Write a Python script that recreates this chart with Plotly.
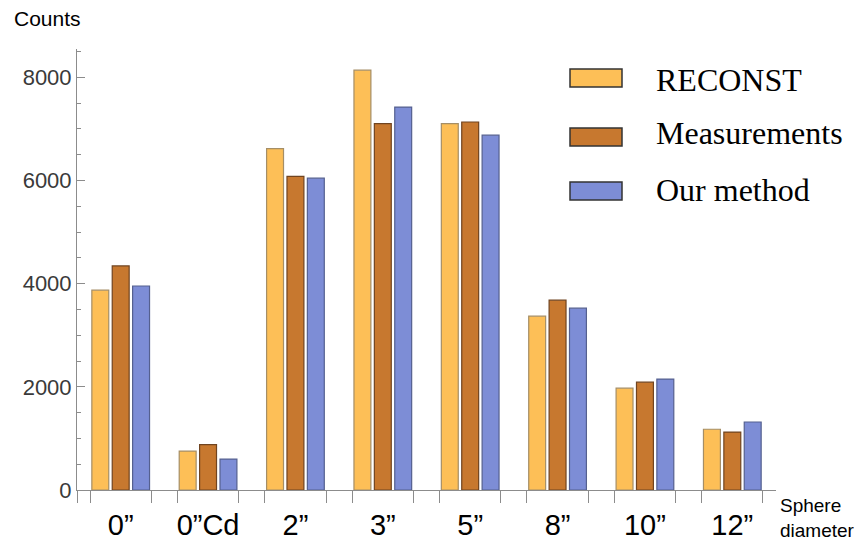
import plotly.graph_objects as go

# ---- data ----
categories = ["0\u201d", "0\u201dCd", "2\u201d", "3\u201d", "5\u201d", "8\u201d", "10\u201d", "12\u201d"]
series_names = ["RECONST", "Measurements", "Our method"]
reconst = [3875, 755, 6620, 8140, 7105, 3370, 1975, 1178]
measurements = [4345, 880, 6080, 7105, 7135, 3680, 2090, 1124]
our_method = [3955, 600, 6045, 7425, 6880, 3525, 2150, 1318]
y_ticks = [0, 2000, 4000, 6000, 8000]

fills = ["#FDBF57", "#C7782F", "#7D8DD6"]
edges = ["#A58E66", "#704420", "#55608F"]

OFF = 8  # default page body margin
W, H = 865, 543
ML, MR, MT, MB = 77, 89, 49, 53
PW, PH = W - ML - MR, H - MT - MB
BARGAP = 0.3
half = (1 - BARGAP) / 2


def px_x(p):
    return (p - ML) / PW


def px_y(p):
    return (H - MB - p) / PH


fig = go.Figure()
for name, vals, fc, ec in zip(series_names, [reconst, measurements, our_method], fills, edges):
    fig.add_trace(go.Bar(
        x=categories, y=vals, name=name,
        marker=dict(color=fc, line=dict(color=ec, width=1.2)),
        showlegend=False,
    ))

# helper trace for edge-tick axis
n = len(categories)
fig.add_trace(go.Scatter(x=[-0.5, n - 0.5], y=[0, 0], mode="none",
                         xaxis="x2", yaxis="y", showlegend=False, hoverinfo="skip"))

edge_ticks = [-0.5]
for i in range(n):
    edge_ticks += [i - half, i + half]

fig.update_layout(
    width=W - OFF, height=H - OFF,
    margin=dict(l=ML - OFF, r=MR, t=MT - OFF, b=MB, autoexpand=False),
    paper_bgcolor="white", plot_bgcolor="white",
    barmode="group", bargap=BARGAP, bargroupgap=0.17,
    font=dict(family="Liberation Sans, Arial, sans-serif"),
    xaxis=dict(
        type="category", range=[-0.5, n - 0.5], automargin=False,
        showline=True, linecolor="#8C8C8C", linewidth=1,
        showgrid=False, zeroline=False,
        ticks="outside", ticklen=9, tickcolor="rgba(0,0,0,0)",
        tickfont=dict(size=29, color="#000000", family="Liberation Sans, Arial, sans-serif"),
    ),
    xaxis2=dict(
        type="linear", overlaying="x", anchor="y", side="bottom", automargin=False,
        range=[-0.5, n - 0.5], showgrid=False, zeroline=False, showline=False,
        tickmode="array", tickvals=edge_ticks, ticks="outside", ticklen=12,
        tickcolor="#8C8C8C", tickwidth=1, showticklabels=False,
    ),
    yaxis=dict(
        range=[0, 8550], automargin=False,
        showline=True, linecolor="#8C8C8C", linewidth=1,
        showgrid=False, zeroline=False,
        tickmode="array", tickvals=y_ticks, ticktext=[str(v) for v in y_ticks],
        ticks="inside", ticklen=8, tickcolor="#8C8C8C", tickwidth=1,
        minor=dict(dtick=500, ticks="inside", ticklen=4, tickcolor="#8C8C8C", tickwidth=1),
        tickfont=dict(size=22, color="#3A3A3A"),
        ticklabelstandoff=0,
    ),
)

annotations = [
    dict(text="Counts", x=px_x(12), y=px_y(19), xref="paper", yref="paper",
         xanchor="left", yanchor="middle", showarrow=False,
         font=dict(size=21, color="#000000")),
    dict(text="Sphere<br>diameter", x=px_x(778), y=px_y(518), xref="paper", yref="paper",
         xanchor="left", yanchor="middle", align="left", showarrow=False,
         font=dict(size=19, color="#000000")),
]

shapes = []
row_centers = [78, 137, 191]
text_centers = [80, 133, 190]
for name, fc, rc, tc in zip(series_names, fills, row_centers, text_centers):
    shapes.append(dict(type="rect", xref="paper", yref="paper",
                       x0=px_x(570), x1=px_x(622), y0=px_y(rc + 9), y1=px_y(rc - 9),
                       fillcolor=fc, line=dict(color="#333333", width=1.5)))
    annotations.append(dict(text=name, x=px_x(654), y=px_y(tc), xref="paper", yref="paper",
                            xanchor="left", yanchor="middle", showarrow=False,
                            font=dict(size=32, color="#000000",
                                      family="Liberation Serif, Times New Roman, serif")))

fig.update_layout(annotations=annotations, shapes=shapes)
fig.write_html("out.html")
